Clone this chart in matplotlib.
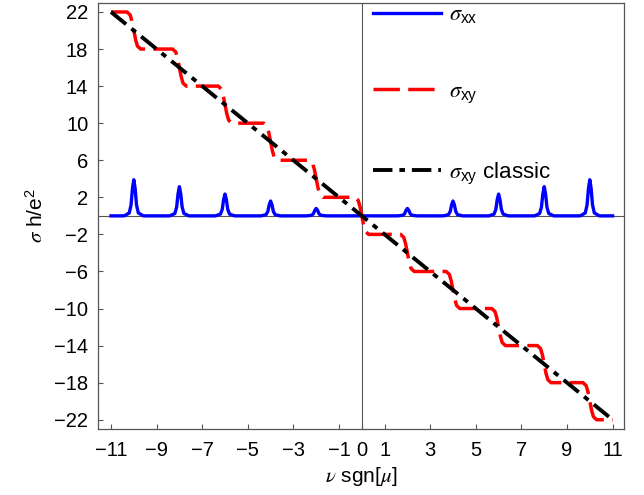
import numpy as np
import matplotlib
matplotlib.use("Agg")
import matplotlib.pyplot as plt
from matplotlib.lines import Line2D

plt.rcParams['font.family'] = ['Liberation Sans', 'DejaVu Sans']
plt.rcParams['mathtext.fontset'] = 'custom'
plt.rcParams['mathtext.rm'] = 'Liberation Sans'
plt.rcParams['mathtext.sf'] = 'Liberation Sans'
plt.rcParams['mathtext.it'] = 'STIXGeneral:italic'
plt.rcParams['lines.scale_dashes'] = False

# values
nu_range = [-11, 11]
nu_steps = [-10, -8, -6, -4, -2, 0, 2, 4, 6, 8, 10]
sxy_plateaus = [22, 18, 14, 10, 6, 2, -2, -6, -10, -14, -18, -22]
sxx_peak_nu = [-10, -8, -6, -4, -2, 2, 4, 6, 8, 10]
sxx_peak_height = [3.9, 3.15, 2.35, 1.6, 0.8, 0.8, 1.6, 2.35, 3.15, 3.9]
sxy_classic_nu = [-11, 11]
sxy_classic = [22, -22]

xticks = [-11, -9, -7, -5, -3, -1, 0, 1, 3, 5, 7, 9, 11]
yticks = [22, 18, 14, 10, 6, 2, -2, -6, -10, -14, -18, -22]

# drawing shape of one peak / one step (style, not data)
peak_dx = [-0.42, -0.2, -0.12, -0.06, 0.0, 0.06, 0.12, 0.2, 0.42]
peak_fr = [0.0, 0.08, 0.3, 0.75, 1.0, 0.75, 0.3, 0.08, 0.0]
step_dx = [-0.3, -0.16, -0.08, 0.08, 0.16, 0.3]
step_fr = [0.0, 0.08, 0.25, 0.75, 0.92, 1.0]

# sigma_xx trace
xx_x = [nu_range[0]]
xx_y = [0.0]
for c, h in zip(sxx_peak_nu, sxx_peak_height):
    xx_x += [c + d for d in peak_dx]
    xx_y += [h * f for f in peak_fr]
xx_x.append(nu_range[1])
xx_y.append(0.0)

# sigma_xy trace
xy_x = [nu_range[0]]
xy_y = [sxy_plateaus[0]]
for i, s in enumerate(nu_steps):
    a, b = sxy_plateaus[i], sxy_plateaus[i + 1]
    xy_x += [s + d for d in step_dx]
    xy_y += [a + (b - a) * f for f in step_fr]
xy_x.append(nu_range[1])
xy_y.append(sxy_plateaus[-1])

fig = plt.figure(figsize=(6.44, 4.95), dpi=100)
ax = fig.add_axes([98 / 644, 1 - 429 / 495, 526 / 644, 426.3 / 495])

gray = '#555555'
ax.axhline(0, color=gray, lw=0.8, zorder=1)
ax.axvline(0, color=gray, lw=0.8, zorder=1)

ax.plot(xx_x, xx_y, color='#0000ff', lw=2.4, solid_joinstyle='round', zorder=2)
ax.plot(xy_x, xy_y, color='#ff0000', lw=2.5, dashes=(19, 6), zorder=3)
ax.plot(sxy_classic_nu, sxy_classic, color='black', lw=2.8,
        dashes=(14, 5, 4, 5), zorder=4)

ax.set_xlim(-11.57, 11.5)
ax.set_ylim(-23, 23)
ax.set_xticks(xticks)
ax.set_xticklabels(['\u2212%d' % -t if t < 0 else '%d' % t for t in xticks])
ax.set_yticks(yticks)
ax.set_yticklabels(['\u2212%d' % -t if t < 0 else '%d' % t for t in yticks])
ax.tick_params(direction='in', length=3.5, width=0.8, color=gray,
               labelsize=14.5, pad=7)
ax.tick_params(axis='x', pad=9)
for sp in ax.spines.values():
    sp.set_color(gray)
    sp.set_linewidth(0.9)

ax.set_xlabel(r'$\nu$ sgn[$\mu$]', fontsize=15, labelpad=3)
ax.set_ylabel(r'$\sigma$ h/e$^{\mathrm{2}}$', fontsize=15, labelpad=5)

handles = [
    Line2D([], [], color='#0000ff', lw=2.4),
    Line2D([], [], color='#ff0000', lw=2.5, dashes=(19, 6)),
    Line2D([], [], color='black', lw=2.8, dashes=(14, 5, 4, 5)),
]
labels = [r'$\sigma_{\mathrm{xx}}$', r'$\sigma_{\mathrm{xy}}$',
          r'$\sigma_{\mathrm{xy}}$ classic']
ax.legend(handles, labels, loc='upper left', bbox_to_anchor=(0.489, 1.038),
          frameon=False, fontsize=16, handlelength=3.05, handletextpad=0.36,
          labelspacing=2.5, borderpad=0.3)

fig.savefig('out.png', dpi=100)
